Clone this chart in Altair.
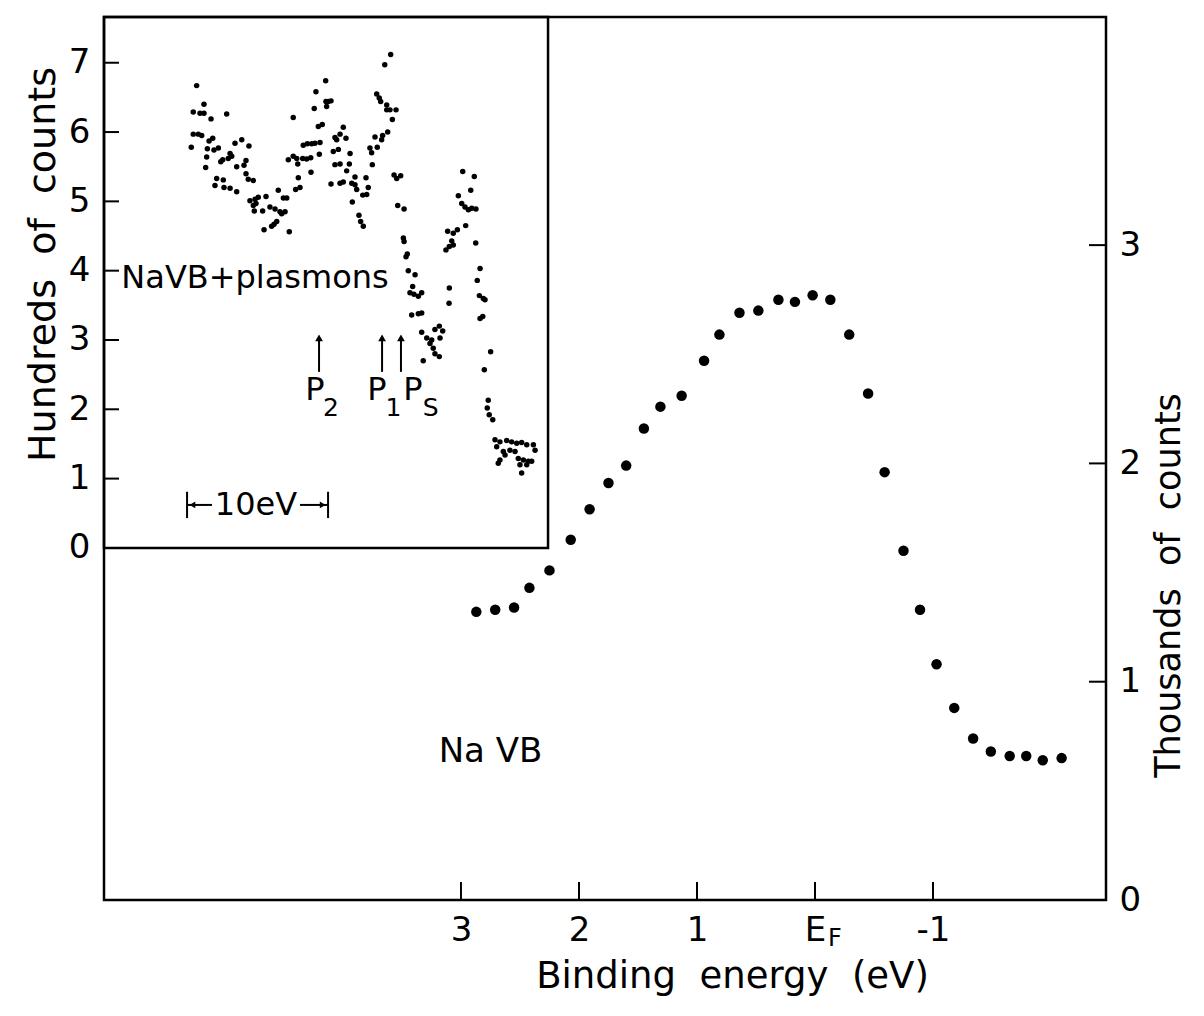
import altair as alt
import pandas as pd

# ---------------- data ----------------
# main panel: Na valence band, binding energy (eV) vs thousands of counts
main_be = [2.87, 2.71, 2.55, 2.42, 2.25, 2.07, 1.91, 1.75, 1.60, 1.45, 1.31,
           1.13, 0.94, 0.81, 0.64, 0.48, 0.31, 0.17, 0.02, -0.13, -0.29, -0.45,
           -0.59, -0.75, -0.89, -1.03, -1.18, -1.34, -1.49, -1.65, -1.79, -1.93, -2.09]
main_counts = [1.32, 1.33, 1.34, 1.43, 1.51, 1.65, 1.79, 1.91, 1.99, 2.16, 2.26,
               2.31, 2.47, 2.59, 2.69, 2.70, 2.75, 2.74, 2.77, 2.75, 2.59, 2.32,
               1.96, 1.60, 1.33, 1.08, 0.88, 0.74, 0.68, 0.66, 0.66, 0.64, 0.65]

# inset: Na VB + plasmons, binding energy (eV, relative to E_F) vs hundreds of counts
inset_be = [20.45, 19.93, 20.69, 20.21, 19.93, 19.43, 18.32, 13.60, 20.69, 20.33,
            20.09, 19.31, 19.57, 20.83, 19.69, 18.91, 19.22, 17.73, 17.25, 16.74,
            19.74, 18.08, 17.96, 18.21, 18.74, 18.60, 16.95, 17.09, 17.61, 19.81,
            13.95, 13.60, 13.35, 13.28, 13.24, 13.43, 16.95, 16.79, 16.43, 19.03,
            18.56, 19.15, 18.51, 18.08, 17.61, 14.66, 16.67, 16.31, 16.08, 15.53,
            16.43, 16.24, 14.30, 14.06, 15.25, 14.89, 14.54, 14.18, 14.42, 16.36,
            15.77, 14.77, 14.96, 15.13, 15.67, 13.88,
            6.69, 7.11, 11.30, 11.99, 7.68, 7.50, 7.40, 6.97, 6.97, 6.74,
            6.31, 11.28, 11.11, 10.92, 11.23, 12.11, 6.57, 11.82, 11.54, 10.05,
            6.90, 7.80, 7.26, 7.33, 10.64, 10.28, 9.86, 10.52, 12.89, 12.60,
            12.29, 12.06, 11.70, 8.16, 7.64, 8.04, 10.76, 10.40, 9.57, 11.75,
            12.93, 12.65, 12.36, 10.64, 10.28, 9.62, 7.99, 9.81, 12.34, 6.45,
            6.26, 5.98, 9.22, 8.44, 10.05, 10.28, 10.92, 9.45, 9.22, 9.10,
            8.28, 13.12, 8.67, 8.39, 9.41, 6.19, 5.74, 8.94, 8.82, 8.63,
            1.58, 0.76, 1.01, 1.89, 1.65, 1.42, 1.18, 0.94, 0.64, 1.37,
            2.65, 2.25, 1.96, 2.36, 2.25, 2.53, 2.77, 5.79, 5.74, 0.66,
            5.60, 5.51, 0.35, 5.44, 4.96, 0.55, 2.53, 2.55, 5.13, 5.32,
            5.04, 4.73, 4.49, 0.40, 0.12, 0.00, 5.20, 4.73, 4.49, 0.16,
            0.35, 3.24, 3.55, 3.00, 4.49, 4.13, 3.78, 3.90, 3.19, 3.67,
            3.55, 3.24, 4.38, -0.40, 0.05, -0.23, -0.16, -0.30, -0.55,
            -0.71, -1.06, -1.54, -1.89, -2.25, -2.60, -2.96, -3.43, -3.55, -0.83,
            -1.30, -1.77, -2.13, -1.42, -1.06, -0.94, -2.36, -2.72, -3.07, -2.48,
            -3.31, -2.96, -2.60]
inset_counts = [6.67, 6.40, 6.29, 6.27, 6.27, 6.19, 6.26, 6.21, 5.97, 5.97,
                5.95, 5.91, 5.87, 5.78, 5.76, 5.77, 5.74, 5.84, 5.89, 5.80,
                5.64, 5.69, 5.65, 5.62, 5.57, 5.60, 5.59, 5.52, 5.50, 5.49,
                5.60, 5.65, 5.62, 5.54, 5.34, 5.17, 5.40, 5.32, 5.30, 5.33,
                5.31, 5.23, 5.20, 5.19, 5.14, 5.16, 5.01, 5.03, 5.06, 5.07,
                4.94, 4.97, 5.05, 5.05, 4.92, 4.89, 4.85, 4.85, 4.82, 4.86,
                4.86, 4.71, 4.67, 4.64, 4.59, 4.56,
                7.12, 6.97, 6.74, 6.58, 6.55, 6.49, 6.44, 6.39, 6.32, 6.32,
                6.32, 6.44, 6.44, 6.45, 6.37, 6.34, 6.18, 6.08, 6.11, 6.07,
                6.00, 5.93, 5.95, 5.89, 5.92, 5.97, 5.91, 5.89, 5.81, 5.83,
                5.83, 5.84, 5.85, 5.77, 5.78, 5.70, 5.72, 5.75, 5.69, 5.68,
                5.62, 5.61, 5.63, 5.53, 5.54, 5.54, 5.53, 5.44, 5.42, 5.38,
                5.33, 5.37, 5.35, 5.34, 5.28, 5.26, 5.25, 5.26, 5.24, 5.17,
                5.20, 5.20, 5.09, 5.10, 4.99, 4.94, 4.89, 4.80, 4.71, 4.64,
                5.43, 5.36, 5.16, 5.08, 4.97, 4.92, 4.88, 4.90, 4.89, 4.65,
                4.57, 4.54, 4.59, 4.43, 4.37, 4.35, 4.30, 4.47, 4.42, 4.40,
                4.20, 4.24, 4.03, 4.00, 3.94, 3.86, 3.75, 3.53, 3.77, 3.68,
                3.66, 3.63, 3.68, 3.64, 3.60, 3.58, 3.36, 3.38, 3.39, 3.34,
                3.31, 3.20, 3.15, 3.13, 3.11, 3.03, 3.00, 2.95, 3.03, 2.88,
                2.80, 2.76, 2.70, 2.83, 2.57, 2.13, 2.02, 1.92, 1.85,
                1.56, 1.53, 1.55, 1.53, 1.51, 1.52, 1.49, 1.49, 1.41, 1.46,
                1.39, 1.41, 1.39, 1.34, 1.27, 1.22, 1.29, 1.27, 1.25, 1.20,
                1.25, 1.20, 1.08]

x_tick_values = [3, 2, 1, 0, -1]
main_y_ticks = [0, 1, 2, 3]
inset_y_ticks = [0, 1, 2, 3, 4, 5, 6, 7]

# scale extents of the two coordinate systems sharing the frame
MAIN_X = [-2.466, 6.025]
MAIN_Y = [0, 4.045]
INSET_X = [-44.04, 27.02]
INSET_Y = [-5.08, 7.66]
INSET_RIGHT = -4.47

# annotations (inset coordinates)
plasmon_names = ["P", "P", "P"]
plasmon_subs = ["2", "1", "S"]
plasmon_arrow_be = [11.77, 7.30, 5.96]
plasmon_label_be = [12.06, 7.66, 5.11]
plasmon_sub_be = [10.92, 6.50, 3.85]

NB = "\u00a0\u00a0"  # wide word spacing as in the original lettering
X_TITLE = NB.join(["Binding", "energy", "(eV)"])
Y_RIGHT_TITLE = NB.join(["Thousands", "of", "counts"])
Y_LEFT_TITLE = NB.join(["Hundreds", "of", "counts"])

W, H = 1002, 883
FONT = "DejaVu Sans"

xs_main = alt.Scale(domain=MAIN_X, reverse=True, nice=False, zero=False)
ys_main = alt.Scale(domain=MAIN_Y, nice=False, zero=False)
xs_in = alt.Scale(domain=INSET_X, reverse=True, nice=False, zero=False)
ys_in = alt.Scale(domain=INSET_Y, nice=False, zero=False)

# ---------------- main panel ----------------
main_df = pd.DataFrame({"be": main_be, "c": main_counts})
main_pts = alt.Chart(main_df).mark_circle(size=110, color="black", opacity=1).encode(
    x=alt.X("be:Q", scale=xs_main, axis=alt.Axis(
        values=x_tick_values, orient="bottom",
        labelExpr="datum.value == 0 ? 'E' : (datum.value < 0 ? '-1' : datum.label)",
        labelFontSize=34, labelPadding=13, labelFont=FONT, labelColor="black",
        ticks=False, domain=False, grid=False, labelFlush=False,
        title=X_TITLE, titleFontSize=37, titleFont=FONT,
        titleColor="black", titleFontWeight="normal",
        titleX=628, titleY=76, titleBaseline="middle")),
    y=alt.Y("c:Q", scale=ys_main, axis=alt.Axis(
        values=main_y_ticks, orient="right", labelFontSize=34, labelPadding=13,
        labelFont=FONT, labelColor="black", labelBaseline="middle",
        ticks=False, domain=False, grid=False, labelFlush=False,
        title=Y_RIGHT_TITLE, titleFontSize=35, titleFont=FONT,
        titleColor="black", titleFontWeight="normal", titleAngle=270,
        titleX=62, titleY=568, titleBaseline="middle")),
)

xt_df = pd.DataFrame({"t": x_tick_values})
x_tick_rules = alt.Chart(xt_df).mark_rule(color="black", strokeWidth=2).encode(
    x=alt.X("t:Q", scale=xs_main, axis=None),
    y=alt.value(H), y2=alt.value(H - 18))

yt_df = pd.DataFrame({"t": main_y_ticks[1:]})
y_tick_rules = alt.Chart(yt_df).mark_rule(color="black", strokeWidth=2).encode(
    y=alt.Y("t:Q", scale=ys_main, axis=None),
    x=alt.value(W), x2=alt.value(W - 17))

navb_df = pd.DataFrame({"be": [2.75], "c": [0.68], "t": ["Na VB"]})
navb_text = alt.Chart(navb_df).mark_text(font=FONT, fontSize=34, color="black").encode(
    x=alt.X("be:Q", scale=xs_main, axis=None),
    y=alt.Y("c:Q", scale=ys_main, axis=None), text="t:N")

ef_df = pd.DataFrame({"be": [0], "t": ["F"]})
ef_sub = alt.Chart(ef_df).mark_text(font=FONT, fontSize=24, color="black", dx=20).encode(
    x=alt.X("be:Q", scale=xs_main, axis=None),
    y=alt.value(H + 39), text="t:N")

# ---------------- inset ----------------
inset_df = pd.DataFrame({"be": inset_be, "c": inset_counts})
inset_pts = alt.Chart(inset_df).mark_circle(size=30, color="black", opacity=1).encode(
    x=alt.X("be:Q", scale=xs_in, axis=None),
    y=alt.Y("c:Q", scale=ys_in, axis=alt.Axis(
        values=inset_y_ticks, orient="left", labelFontSize=34, labelPadding=14,
        labelFont=FONT, labelColor="black", labelBaseline="middle",
        ticks=False, domain=False, grid=False, labelFlush=False,
        title=Y_LEFT_TITLE, titleFontSize=38, titleFont=FONT,
        titleColor="black", titleFontWeight="normal", titleAngle=270,
        titleX=-61, titleY=247, titleBaseline="middle")),
)

frame_df = pd.DataFrame({"x1": [INSET_X[1]], "x2": [INSET_RIGHT], "y1": [0], "y2": [INSET_Y[1]]})
inset_frame = alt.Chart(frame_df).mark_rect(stroke="black", strokeWidth=2.5, fillOpacity=0).encode(
    x=alt.X("x1:Q", scale=xs_in, axis=None), x2="x2:Q",
    y=alt.Y("y1:Q", scale=ys_in, axis=None), y2="y2:Q")

it_df = pd.DataFrame({"t": inset_y_ticks[1:]})
inset_ticks = alt.Chart(it_df).mark_rule(color="black", strokeWidth=2).encode(
    y=alt.Y("t:Q", scale=ys_in, axis=None),
    x=alt.value(0), x2=alt.value(15))

lab_df = pd.DataFrame({"be": [16.31], "c": [3.90], "t": ["NaVB+plasmons"]})
lab_text = alt.Chart(lab_df).mark_text(font=FONT, fontSize=32, color="black").encode(
    x=alt.X("be:Q", scale=xs_in, axis=None),
    y=alt.Y("c:Q", scale=ys_in, axis=None), text="t:N")

arr_df = pd.DataFrame({"be": plasmon_arrow_be, "lo": [2.54] * 3, "hi": [3.03] * 3})
arrows = alt.Chart(arr_df).mark_rule(color="black", strokeWidth=2).encode(
    x=alt.X("be:Q", scale=xs_in, axis=None),
    y=alt.Y("lo:Q", scale=ys_in, axis=None), y2="hi:Q")
heads = alt.Chart(arr_df).mark_point(shape="triangle-up", filled=True, size=60,
                                     color="black", opacity=1).encode(
    x=alt.X("be:Q", scale=xs_in, axis=None),
    y=alt.Y("hi:Q", scale=ys_in, axis=None))

p_df = pd.DataFrame({"be": plasmon_label_be, "c": [2.28] * 3, "t": plasmon_names})
p_text = alt.Chart(p_df).mark_text(font=FONT, fontSize=32, color="black").encode(
    x=alt.X("be:Q", scale=xs_in, axis=None),
    y=alt.Y("c:Q", scale=ys_in, axis=None), text="t:N")
ps_df = pd.DataFrame({"be": plasmon_sub_be, "c": [2.02] * 3, "t": plasmon_subs})
ps_text = alt.Chart(ps_df).mark_text(font=FONT, fontSize=25, color="black").encode(
    x=alt.X("be:Q", scale=xs_in, axis=None),
    y=alt.Y("c:Q", scale=ys_in, axis=None), text="t:N")

# 10 eV scale bar
bar_seg_df = pd.DataFrame({"a": [21.13, 13.12], "b": [19.36, 11.13], "c": [0.62, 0.62]})
bar_segs = alt.Chart(bar_seg_df).mark_rule(color="black", strokeWidth=2).encode(
    x=alt.X("a:Q", scale=xs_in, axis=None), x2="b:Q",
    y=alt.Y("c:Q", scale=ys_in, axis=None))
bar_end_df = pd.DataFrame({"a": [21.13, 11.13], "lo": [0.43, 0.43], "hi": [0.81, 0.81]})
bar_ends = alt.Chart(bar_end_df).mark_rule(color="black", strokeWidth=2).encode(
    x=alt.X("a:Q", scale=xs_in, axis=None),
    y=alt.Y("lo:Q", scale=ys_in, axis=None), y2="hi:Q")
bar_head_l = alt.Chart(pd.DataFrame({"a": [20.75], "c": [0.62]})).mark_point(
    shape="triangle-left", filled=True, size=45, color="black", opacity=1).encode(
    x=alt.X("a:Q", scale=xs_in, axis=None), y=alt.Y("c:Q", scale=ys_in, axis=None))
bar_head_r = alt.Chart(pd.DataFrame({"a": [11.51], "c": [0.62]})).mark_point(
    shape="triangle-right", filled=True, size=45, color="black", opacity=1).encode(
    x=alt.X("a:Q", scale=xs_in, axis=None), y=alt.Y("c:Q", scale=ys_in, axis=None))
bar_text = alt.Chart(pd.DataFrame({"a": [16.24], "c": [0.62], "t": ["10eV"]})).mark_text(
    font=FONT, fontSize=32, color="black").encode(
    x=alt.X("a:Q", scale=xs_in, axis=None), y=alt.Y("c:Q", scale=ys_in, axis=None), text="t:N")

chart = alt.layer(
    main_pts, inset_pts, x_tick_rules, y_tick_rules, navb_text, ef_sub,
    inset_frame, inset_ticks, lab_text, arrows, heads, p_text, ps_text,
    bar_segs, bar_ends, bar_head_l, bar_head_r, bar_text,
).resolve_scale(
    x="independent", y="independent"
).properties(
    width=W, height=H,
    autosize=alt.AutoSizeParams(type="none"),
    padding={"left": 96, "top": 9, "right": 90, "bottom": 100},
    background="white",
).configure_view(stroke="black", strokeWidth=2.5)

chart.save("out.html", embed_options={"renderer": "svg", "actions": False})
